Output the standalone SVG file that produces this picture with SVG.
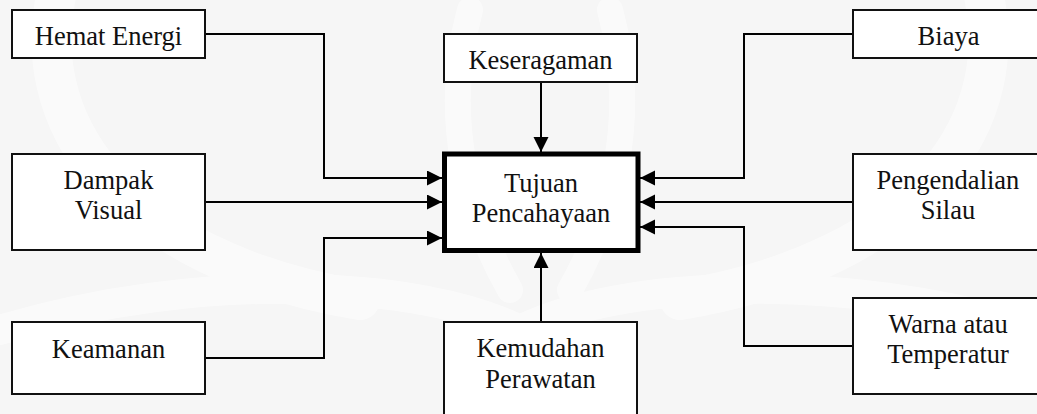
<svg xmlns="http://www.w3.org/2000/svg" width="1037" height="414" viewBox="0 0 1037 414">
  <defs>
    <marker id="arrow" markerUnits="userSpaceOnUse" markerWidth="16" markerHeight="16" refX="15" refY="7.5" orient="auto">
      <path d="M0,0 L15,7.5 L0,15 z" fill="#000"/>
    </marker>
    <style>
      .box { fill: #fff; stroke: #111; stroke-width: 2; }
      .main { fill: #fff; stroke: #000; stroke-width: 5; }
      .lbl { font-size: 26.5px; fill: #111; text-anchor: middle; }
      .wire { fill: none; stroke: #000; stroke-width: 2; marker-end: url(#arrow); }
      .mark { fill: none; stroke: #fff; stroke-linecap: round; }
    </style>
  </defs>

  <!-- faint background emblem -->
  <rect x="0" y="0" width="1037" height="414" fill="#f6f6f6"/>
  <g id="emblem" opacity="0.5">
    <path class="mark" d="M60,-20 C20,120 120,260 360,300" stroke-width="40"/>
    <path class="mark" d="M980,-20 C1020,120 920,260 680,300" stroke-width="40"/>
    <path class="mark" d="M0,330 C200,270 420,280 520,330 C620,280 840,270 1037,330" stroke-width="30"/>
    <path class="mark" d="M470,10 C440,120 470,220 510,290" stroke-width="26"/>
    <path class="mark" d="M610,10 C640,120 610,220 570,290" stroke-width="26"/>
  </g>

  <g id="connectors">
    <path class="wire" d="M205,34 H324 V178 H442"/>
    <path class="wire" d="M205,202 H442"/>
    <path class="wire" d="M205,358 H324 V238 H442"/>
    <path class="wire" d="M541,82 V152"/>
    <path class="wire" d="M541,322 V253"/>
    <path class="wire" d="M853,34 H744 V178 H640"/>
    <path class="wire" d="M853,202 H640"/>
    <path class="wire" d="M853,346 H744 V227 H640"/>
  </g>

  <g font-family="Liberation Serif, Times New Roman, Times, DejaVu Serif, serif">
    <g id="tujuan">
      <rect class="main" x="444.5" y="154" width="193.5" height="96.5"/>
      <text class="lbl" x="541" y="192">Tujuan</text>
      <text class="lbl" x="541" y="222">Pencahayaan</text>
    </g>

    <g id="hemat-energi">
      <rect class="box" x="12" y="10" width="193" height="48"/>
      <text class="lbl" x="108.5" y="45">Hemat Energi</text>
    </g>

    <g id="dampak-visual">
      <rect class="box" x="12" y="154" width="193" height="96"/>
      <text class="lbl" x="108.5" y="189">Dampak</text>
      <text class="lbl" x="108.5" y="219">Visual</text>
    </g>

    <g id="keamanan">
      <rect class="box" x="12" y="322" width="193" height="72"/>
      <text class="lbl" x="108.5" y="358">Keamanan</text>
    </g>

    <g id="keseragaman">
      <rect class="box" x="444" y="34" width="193" height="48"/>
      <text class="lbl" x="540.5" y="69">Keseragaman</text>
    </g>

    <g id="kemudahan-perawatan">
      <rect class="box" x="444" y="322" width="193" height="110"/>
      <text class="lbl" x="540.5" y="357">Kemudahan</text>
      <text class="lbl" x="540.5" y="388">Perawatan</text>
    </g>

    <g id="biaya">
      <rect class="box" x="853" y="10" width="192" height="48"/>
      <text class="lbl" x="948.5" y="45">Biaya</text>
    </g>

    <g id="pengendalian-silau">
      <rect class="box" x="853" y="154" width="192" height="96"/>
      <text class="lbl" x="948" y="189">Pengendalian</text>
      <text class="lbl" x="948" y="219">Silau</text>
    </g>

    <g id="warna-temperatur">
      <rect class="box" x="853" y="298" width="192" height="96"/>
      <text class="lbl" x="948" y="333">Warna atau</text>
      <text class="lbl" x="948" y="363">Temperatur</text>
    </g>
  </g>
</svg>
